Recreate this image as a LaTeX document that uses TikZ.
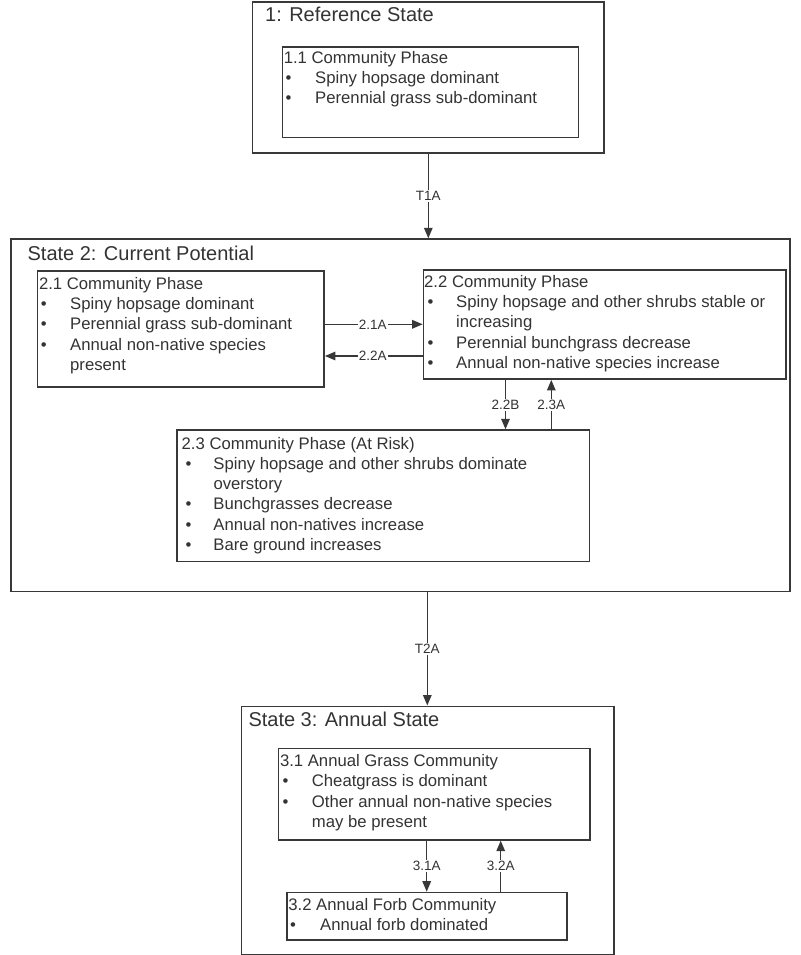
\documentclass[tikz,border=0pt]{standalone}
\usepackage{fontspec}
\setmainfont{Liberation Sans}
\usetikzlibrary{arrows.meta}
\definecolor{ink}{HTML}{333333}
\definecolor{edge}{HTML}{383838}
\newcommand\mkbox[5]{\node[box, minimum width={(#4)-(#2)}, minimum height={(#5)-(#3)}] (#1) at (#2,#3) {};}
\newcommand\bln[5]{\node[txt] (#1) at (#2,#3) {\makebox[#4pt][l]{\textbullet}#5};}
\newcommand\cln[5]{\node[txt] (#1) at (#2,#3) {\hspace*{#4pt}#5};}
\begin{document}
\begin{tikzpicture}[x=1pt,y=-1pt,
 box/.style={draw=edge, line width=1.6pt, rectangle, inner sep=0pt, anchor=north west},
 txt/.style={anchor=base west, inner sep=0pt, text=ink, font=\fontsize{16.7}{20}\selectfont},
 ttl/.style={anchor=base west, inner sep=0pt, text=ink, font=\fontsize{20}{24}\selectfont},
 lbl/.style={fill=white, inner sep=1.2pt, text=ink, font=\fontsize{13.5}{16}\selectfont},
 arr/.style={draw=edge, line width=1.4pt, -{Triangle[length=10.5pt,width=8.5pt]}}]
\useasboundingbox (0,0) rectangle (800,955);
% ---------- State 1 ----------
\mkbox{b1}{251.7}{1.2}{603}{152}
\node[ttl] (t1) at (265,21.7) {1: Reference State};
\mkbox{b11}{281.7}{46}{577.7}{136.7}
\node[txt] (t11) at (283.6,64) {1.1 Community Phase};
\bln{t11a}{285.4}{84}{29.6}{Spiny hopsage dominant}
\bln{t11b}{285.4}{104}{29.6}{Perennial grass sub-dominant}
% ---------- State 2 ----------
\mkbox{b2}{10}{238.3}{789.3}{590.7}
\node[ttl] (t2) at (27.4,260) {State 2: Current Potential};
\mkbox{b21}{36.7}{270}{323.3}{386}
\node[txt] (t21) at (38.8,289.5) {2.1 Community Phase};
\bln{t21a}{40.6}{309.7}{29.4}{Spiny hopsage dominant}
\bln{t21b}{40.6}{329.9}{29.4}{Perennial grass sub-dominant}
\bln{t21c}{40.6}{350.1}{29.4}{Annual non-native species}
\cln{t21d}{40.6}{370.3}{29.4}{present}
\mkbox{b22}{422.7}{269.3}{785}{378.3}
\node[txt] (t22) at (424,287.5) {2.2 Community Phase};
\bln{t22a}{427.4}{307.7}{28.6}{Spiny hopsage and other shrubs stable or}
\cln{t22b}{427.4}{327.9}{28.6}{increasing}
\bln{t22c}{427.4}{348.1}{28.6}{Perennial bunchgrass decrease}
\bln{t22d}{427.4}{368.3}{28.6}{Annual non-native species increase}
\mkbox{b23}{176}{429.3}{588.7}{560.7}
\node[txt] (t23) at (181.5,449) {2.3 Community Phase (At Risk)};
\bln{t23a}{185.4}{469.3}{27.9}{Spiny hopsage and other shrubs dominate}
\cln{t23b}{185.4}{489.5}{27.9}{overstory}
\bln{t23c}{185.4}{509.8}{27.9}{Bunchgrasses decrease}
\bln{t23d}{185.4}{530}{27.9}{Annual non-natives increase}
\bln{t23e}{185.4}{550.2}{27.9}{Bare ground increases}
% ---------- State 3 ----------
\mkbox{b3}{240.7}{705.5}{613.3}{954}
\node[ttl] (t3) at (248.3,726.7) {State 3: Annual State};
\mkbox{b31}{277.7}{747.7}{589.3}{839}
\node[txt] (t31) at (279.8,766) {3.1 Annual Grass Community};
\bln{t31a}{282.4}{786.5}{29.3}{Cheatgrass is dominant}
\bln{t31b}{282.4}{807}{29.3}{Other annual non-native species}
\cln{t31c}{282.4}{827.3}{29.3}{may be present}
\mkbox{b32}{286}{891.7}{566}{939}
\node[txt] (t32) at (288.2,910) {3.2 Annual Forb Community};
\bln{t32a}{289.9}{930}{30.1}{Annual forb dominated}
% ---------- connectors ----------
\coordinate (xT1) at (428.3,0);
\coordinate (xT2) at (427.3,0);
\coordinate (yA) at (0,324.3);
\coordinate (yB) at (0,356);
\coordinate (x22B) at (505.5,0);
\coordinate (x23A) at (551.3,0);
\coordinate (x31A) at (426.7,0);
\coordinate (x32A) at (500.7,0);
\draw[arr] (b1.south -| xT1) -- node[lbl] (lT1) {T1A} (b2.north -| xT1);
\draw[arr] (b21.east |- yA) -- node[lbl, pos=0.49] (l21A) {2.1A} (b22.west |- yA);
\draw[arr] (b22.west |- yB) -- node[lbl, pos=0.51] (l22A) {2.2A} (b21.east |- yB);
\draw[arr] (b22.south -| x22B) -- node[lbl] (l22B) {2.2B} (b23.north -| x22B);
\draw[arr] (b23.north -| x23A) -- node[lbl] (l23A) {2.3A} (b22.south -| x23A);
\draw[arr] (b2.south -| xT2) -- node[lbl] (lT2) {T2A} (b3.north -| xT2);
\draw[arr] (b31.south -| x31A) -- node[lbl] (l31A) {3.1A} (b32.north -| x31A);
\draw[arr] (b32.north -| x32A) -- node[lbl] (l32A) {3.2A} (b31.south -| x32A);
\end{tikzpicture}
\end{document}
